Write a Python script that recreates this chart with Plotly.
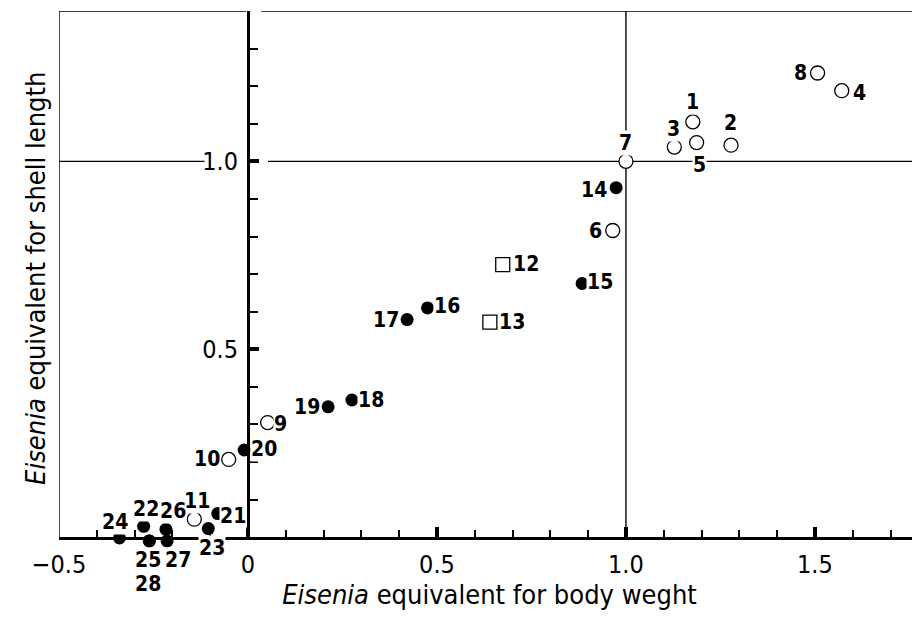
import plotly.graph_objects as go

# ---- data ----
point_ids = [1, 2, 3, 4, 5, 6, 7, 8, 9, 10, 11,
             12, 13,
             14, 15, 16, 17, 18, 19, 20, 21, 22, 23, 24, 25, 26, 27, 28]
body_weight = [1.177, 1.278, 1.128, 1.571, 1.187, 0.965, 1.000, 1.507, 0.052, -0.051, -0.142,
               0.674, 0.640,
               0.974, 0.884, 0.475, 0.421, 0.275, 0.212, -0.010, -0.080, -0.276, -0.105,
               -0.340, -0.261, -0.217, -0.214, -0.261]
shell_length = [1.105, 1.043, 1.038, 1.188, 1.050, 0.816, 1.000, 1.235, 0.305, 0.207, 0.048,
                0.725, 0.572,
                0.930, 0.675, 0.610, 0.579, 0.365, 0.347, 0.232, 0.063, 0.029, 0.023,
                -0.002, -0.010, 0.021, -0.010, -0.010]
groups = ["open"] * 11 + ["square"] * 2 + ["filled"] * 15

x_tick_vals = [-0.5, 0, 0.5, 1.0, 1.5]
x_tick_text = ["\u22120.5", "0", "0.5", "1.0", "1.5"]
y_tick_vals = [0.5, 1.0]
y_tick_text = ["0.5", "1.0"]

# label placement (pixel offsets of each number from its marker: dx right, dy down)
label_offsets = {
    1: (0, -20), 2: (-1, -22), 3: (-1, -18), 4: (18, 2), 5: (3, 22), 6: (-17, 0),
    7: (0, -18), 8: (-17, 0), 9: (13, 1), 10: (-22, 0), 11: (3, -18), 12: (23, -1),
    13: (22, 0), 14: (-22, 2), 15: (18, -2), 16: (19, -2), 17: (-21, 0), 18: (19, 0),
    19: (-21, 0), 20: (20, -1), 21: (15, 2), 22: (2, -17), 23: (4, 19), 24: (-4, -16),
    25: (-1, 19), 26: (7, -18), 27: (11, 19), 28: (-1, 43),
}

FONT = "DejaVu Sans Condensed, Liberation Sans Narrow, sans-serif"
X_MIN, X_MAX = -0.5, 1.778
Y_MIN, Y_MAX = 0.0, 1.4
Y_DATA_MIN = -0.05          # data axis reaches a little below 0 so points on y=0 stay visible
d0 = (Y_MIN - Y_DATA_MIN) / (Y_MAX - Y_DATA_MIN)

styles = {
    "open": dict(symbol="circle", size=14, color="white", line=dict(color="black", width=1.3)),
    "square": dict(symbol="square", size=14, color="white", line=dict(color="black", width=1.3)),
    "filled": dict(symbol="circle", size=13, color="black", line=dict(color="black", width=0)),
}

fig = go.Figure()
# empty trace so that the drawn axes (x, y) form a subplot
fig.add_trace(go.Scatter(x=[], y=[], xaxis="x", yaxis="y", mode="markers",
                         showlegend=False, hoverinfo="skip"))
for g in ["open", "square", "filled"]:
    xs = [x for x, gg in zip(body_weight, groups) if gg == g]
    ys = [y for y, gg in zip(shell_length, groups) if gg == g]
    fig.add_trace(go.Scatter(x=xs, y=ys, xaxis="x", yaxis="y2", mode="markers",
                             marker=styles[g], cliponaxis=False,
                             showlegend=False, hoverinfo="skip"))

for pid, x, y in zip(point_ids, body_weight, shell_length):
    dx, dy = label_offsets[pid]
    fig.add_annotation(x=x, y=y, xref="x", yref="y2", text=f"<b>{pid}</b>", showarrow=False,
                       xanchor="center", yanchor="middle", xshift=dx, yshift=-dy,
                       font=dict(family=FONT, size=21, color="black"),
                       bgcolor="white", borderpad=0)

# frame and reference lines
line_thin = dict(color="black", width=1.4)
shapes = [
    dict(x0=X_MIN, x1=X_MIN, y0=0, y1=Y_MAX),           # left frame
    dict(x0=X_MIN, x1=-0.005, y0=Y_MAX, y1=Y_MAX),       # top frame (left part)
    dict(x0=0.035, x1=X_MAX, y0=Y_MAX, y1=Y_MAX),        # top frame (right part)
    dict(x0=X_MIN, x1=-0.115, y0=1.0, y1=1.0),           # y = 1 line (left part)
    dict(x0=0.053, x1=X_MAX, y0=1.0, y1=1.0),            # y = 1 line (right part)
    dict(x0=1.0, x1=1.0, y0=0, y1=Y_MAX),                # x = 1 line
]
for s in shapes:
    s.update(type="line", xref="x", yref="y2", layer="below", line=line_thin)
    fig.add_shape(**s)

fig.add_annotation(x=-0.028, y=0.51, xref="paper", yref="paper", textangle=-90,
                   text="<i>Eisenia</i> equivalent for shell length", showarrow=False,
                   xanchor="center", yanchor="middle",
                   font=dict(family=FONT, size=27, color="black"))

# the page adds an 8px body margin, so the figure is sized/offset to fill the 920x622 view
fig.update_layout(
    width=912, height=614,
    margin=dict(l=51, r=0, t=3, b=66),
    paper_bgcolor="white", plot_bgcolor="rgba(0,0,0,0)",
    font=dict(family=FONT, color="black"),
    xaxis=dict(
        range=[X_MIN, X_MAX], showgrid=False, zeroline=False, anchor="y", automargin=False,
        showline=True, linecolor="black", linewidth=3,
        tickmode="array", tickvals=x_tick_vals, ticktext=x_tick_text,
        ticks="inside", ticklen=10, tickwidth=4, tickcolor="black",
        tickfont=dict(family=FONT, size=25, color="black"),
        ticklabelstandoff=3,
        minor=dict(tick0=0, dtick=0.1, ticks="inside", ticklen=7, tickwidth=2,
                   tickcolor="black", showgrid=False),
        title=dict(text="<i>Eisenia</i> equivalent for body weght",
                   font=dict(family=FONT, size=27, color="black"), standoff=7),
    ),
    yaxis=dict(
        domain=[d0, 1], range=[Y_MIN, Y_MAX], showgrid=False, zeroline=False,
        anchor="free", position=(0 - X_MIN) / (X_MAX - X_MIN), automargin=False,
        showline=True, linecolor="black", linewidth=3,
        tickmode="array", tickvals=y_tick_vals, ticktext=y_tick_text,
        ticks="inside", ticklen=9, tickwidth=4, tickcolor="black",
        tickfont=dict(family=FONT, size=25, color="black"),
        ticklabelstandoff=4,
        minor=dict(tick0=0, dtick=0.1, ticks="inside", ticklen=8, tickwidth=2,
                   tickcolor="black", showgrid=False),
    ),
    yaxis2=dict(domain=[0, 1], range=[Y_DATA_MIN, Y_MAX], visible=False, anchor="x"),
)

fig.write_html("out.html")
